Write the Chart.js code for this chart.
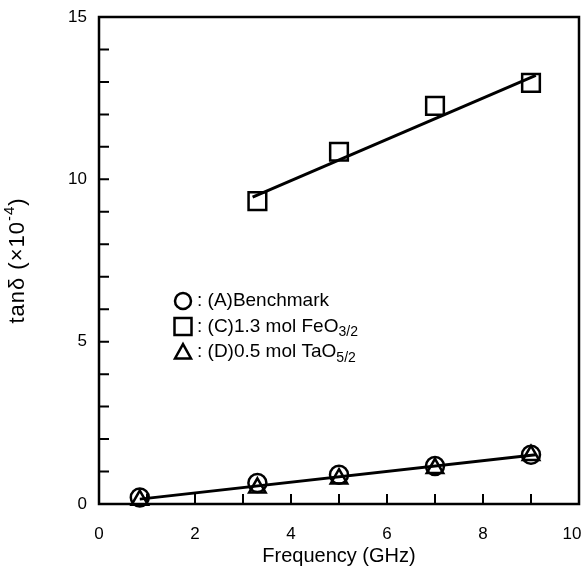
<!DOCTYPE html>
<html>
<head>
<meta charset="utf-8">
<script src="https://cdn.jsdelivr.net/npm/chart.js@4.4.0/dist/chart.umd.min.js"></script>
<style>
  html, body { margin: 0; padding: 0; background: #fff; overflow: hidden; width: 584px; height: 572px; }
  #wrap { position: relative; width: 594px; height: 572px; }
</style>
</head>
<body>
<div id="wrap"><canvas id="c"></canvas></div>
<script>
// ---- data ----
const freqA = [0.85, 3.3, 5.0, 7.0, 9.0];
const tanA  = [0.2, 0.65, 0.9, 1.17, 1.52];
const freqC = [3.3, 5.0, 7.0, 9.0];
const tanC  = [9.33, 10.85, 12.26, 12.97];
const freqD = [0.85, 3.3, 5.0, 7.0, 9.0];
const tanD  = [0.12, 0.5, 0.78, 1.1, 1.5];
const fitCFreq  = [3.2, 9.1];
const fitCTan   = [9.45, 13.2];
const fitADFreq = [0.85, 9.1];
const fitADTan  = [0.15, 1.52];
const xTickLabels = [0, 2, 4, 6, 8, 10];
const yTickLabels = [0, 5, 10, 15];
const legendLabels = [
  { style: 'circle',   main: ': (A)Benchmark',      sub: '' },
  { style: 'rect',     main: ': (C)1.3 mol FeO',    sub: '3/2' },
  { style: 'triangle', main: ': (D)0.5 mol TaO',    sub: '5/2' }
];
const yTitleMain = 'tanδ (×10';
const yTitleSup = '-4';
const yTitleEnd = ')';

const pts = (xs, ys) => xs.map((x, i) => ({ x: x, y: ys[i] }));
const FONT = "'Liberation Sans', Arial, Helvetica, sans-serif";

function drawSymbol(ctx, style, x, y, r) {
  ctx.beginPath();
  if (style === 'circle') {
    ctx.arc(x, y, r, 0, Math.PI * 2);
  } else if (style === 'rect') {
    ctx.rect(x - r, y - r, 2 * r, 2 * r);
  } else {
    const h = r * 1.8;
    ctx.moveTo(x, y - h * 0.55);
    ctx.lineTo(x + r, y + h * 0.45);
    ctx.lineTo(x - r, y + h * 0.45);
    ctx.closePath();
  }
  ctx.stroke();
}

const framePlugin = {
  id: 'frameTicks',
  beforeDatasetsDraw(chart) {
    const { ctx, chartArea: a, scales } = chart;
    ctx.save();
    ctx.strokeStyle = '#000';
    ctx.lineWidth = 2.5;
    ctx.strokeRect(a.left, a.top, a.right - a.left, a.bottom - a.top);
    ctx.lineWidth = 2;
    ctx.beginPath();
    for (let v = 1; v < 10; v++) {
      const px = scales.x.getPixelForValue(v);
      ctx.moveTo(px, a.bottom);
      ctx.lineTo(px, a.bottom - 10);
    }
    for (let v = 1; v < 15; v++) {
      const py = scales.y.getPixelForValue(v);
      ctx.moveTo(a.left, py);
      ctx.lineTo(a.left + 10, py);
    }
    ctx.stroke();
    ctx.restore();
  },
  afterDraw(chart) {
    const { ctx, chartArea: a } = chart;
    ctx.save();
    ctx.strokeStyle = '#000';
    ctx.fillStyle = '#000';
    ctx.lineWidth = 2.5;
    const x0 = a.left + 84, y0 = a.top + 284, dy = 25.5;
    legendLabels.forEach((item, i) => {
      const y = y0 + i * dy;
      drawSymbol(ctx, item.style, x0, y, item.style === 'rect' ? 8.5 : 8);
      ctx.font = '19px ' + FONT;
      ctx.textBaseline = 'middle';
      ctx.textAlign = 'left';
      ctx.fillText(item.main, x0 + 14, y);
      if (item.sub) {
        const w = ctx.measureText(item.main).width;
        ctx.font = '14px ' + FONT;
        ctx.fillText(item.sub, x0 + 14 + w, y + 6);
      }
    });
    // y-axis title with real superscript
    ctx.translate(18, (a.top + a.bottom) / 2);
    ctx.rotate(-Math.PI / 2);
    ctx.textBaseline = 'middle';
    ctx.textAlign = 'left';
    ctx.letterSpacing = '1px';
    ctx.font = '22px ' + FONT;
    const w1 = ctx.measureText(yTitleMain).width;
    ctx.font = '15px ' + FONT;
    const w2 = ctx.measureText(yTitleSup).width;
    ctx.font = '22px ' + FONT;
    const w3 = ctx.measureText(yTitleEnd).width;
    const sx = -(w1 + w2 + w3) / 2;
    ctx.fillText(yTitleMain, sx, 0);
    ctx.font = '15px ' + FONT;
    ctx.fillText(yTitleSup, sx + w1, -8);
    ctx.font = '22px ' + FONT;
    ctx.fillText(yTitleEnd, sx + w1 + w2, 0);
    ctx.restore();
  }
};

new Chart(document.getElementById('c'), {
  type: 'scatter',
  data: {
    datasets: [
      { label: '(D)0.5 mol TaO5/2', data: pts(freqD, tanD), pointStyle: 'triangle',
        pointRadius: 9.5, borderColor: '#000', backgroundColor: 'transparent', borderWidth: 2.5, clip: false },
      { label: '(A)Benchmark', data: pts(freqA, tanA), pointStyle: 'circle',
        pointRadius: 9, borderColor: '#000', backgroundColor: 'transparent', borderWidth: 2.5, clip: false },
      { label: '(C)1.3 mol FeO3/2', data: pts(freqC, tanC), pointStyle: 'rect',
        pointRadius: 12.5, borderColor: '#000', backgroundColor: 'transparent', borderWidth: 2.5, clip: false },
      { label: 'fit C', data: pts(fitCFreq, fitCTan), showLine: true, pointRadius: 0,
        borderColor: '#000', borderWidth: 3, clip: false },
      { label: 'fit A/D', data: pts(fitADFreq, fitADTan), showLine: true, pointRadius: 0,
        borderColor: '#000', borderWidth: 3, clip: false }
    ]
  },
  options: {
    responsive: true,
    maintainAspectRatio: false,
    animation: false,
    devicePixelRatio: 1,
    layout: { padding: { top: 17, right: 5, left: 0, bottom: 0 } },
    plugins: { legend: { display: false }, tooltip: { enabled: false } },
    scales: {
      x: {
        type: 'linear', min: 0, max: 10,
        grid: { display: false, drawTicks: false },
        border: { display: false },
        ticks: {
          stepSize: 2, padding: 20, color: '#000',
          font: { family: FONT, size: 17 },
          callback: (v) => xTickLabels.includes(v) ? (v === 10 ? '10   ' : String(v)) : ''
        },
        title: { display: true, text: 'Frequency (GHz)', color: '#000',
          font: { family: FONT, size: 20 }, padding: { top: 0, bottom: 4 } },
        afterFit: (s) => { s.height = 68; s.paddingLeft = 0; s.paddingRight = 0; }
      },
      y: {
        type: 'linear', min: 0, max: 15,
        grid: { display: false, drawTicks: false },
        border: { display: false },
        ticks: {
          stepSize: 5, padding: 12, color: '#000',
          font: { family: FONT, size: 17 },
          callback: (v) => yTickLabels.includes(v) ? String(v) : ''
        },
        title: { display: false },
        afterFit: (s) => { s.width = 99; s.paddingTop = 0; s.paddingBottom = 0; }
      }
    }
  },
  plugins: [framePlugin]
});
</script>
</body>
</html>
